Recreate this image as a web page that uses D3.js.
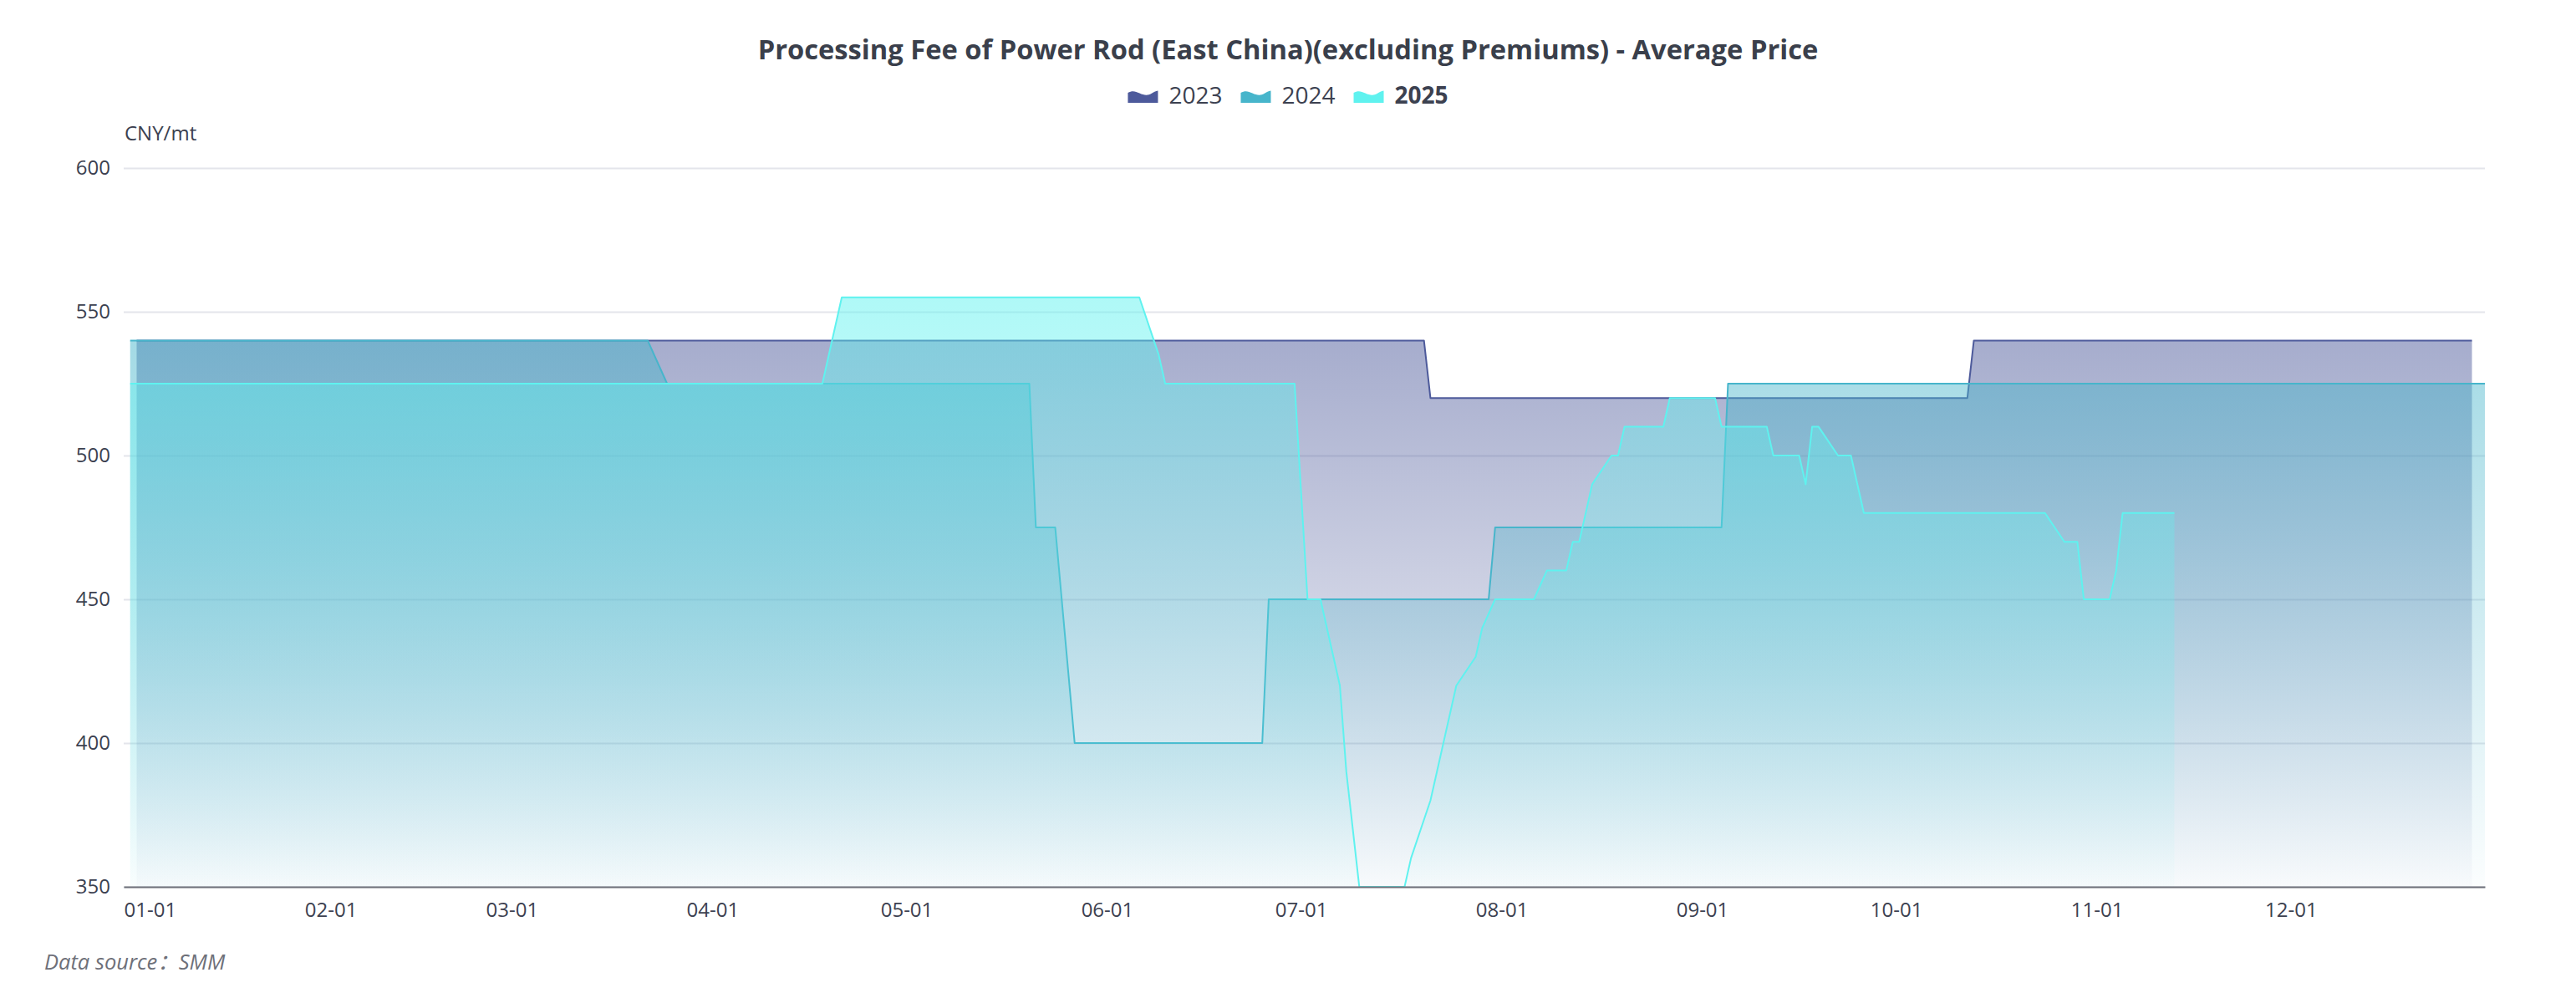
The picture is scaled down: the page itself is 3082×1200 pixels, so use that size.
<!DOCTYPE html>
<html>
<head>
<meta charset="utf-8">
<script src="https://cdn.jsdelivr.net/npm/d3@7"></script>
<style>
  html, body { margin: 0; padding: 0; background: #fff; }
  svg { display: block; font-family: "Open Sans", "Noto Sans", "Noto Sans CJK SC", sans-serif; }
</style>
</head>
<body>
<div id="chart"></div>
<script>
// change points of each year's price (MM-DD), straight lines between them
const dates2023 = ['01-02', '07-20', '07-21', '10-12', '10-13', '12-29'];
const values2023 = [540, 540, 520, 520, 540, 540];

const dates2024 = ['01-01', '03-22', '03-25', '05-20', '05-21', '05-24', '05-27', '06-25',
                   '06-26', '07-30', '07-31', '09-04', '09-05', '12-31'];
const values2024 = [540, 540, 525, 525, 475, 475, 400, 400, 450, 450, 475, 475, 525, 525];

const dates2025 = ['01-01', '04-18', '04-21', '06-06', '06-09', '06-10', '06-30', '07-02',
                   '07-04', '07-07', '07-08', '07-09', '07-10', '07-17', '07-18', '07-21',
                   '07-25', '07-28', '07-29', '07-31', '08-06', '08-08', '08-11', '08-12',
                   '08-13', '08-15', '08-18', '08-19', '08-20', '08-26', '08-27', '09-03',
                   '09-04', '09-11', '09-12', '09-16', '09-17', '09-18', '09-19', '09-22',
                   '09-24', '09-26', '10-24', '10-27', '10-29', '10-30', '11-03', '11-04',
                   '11-05', '11-13'];
const values2025 = [525, 525, 555, 555, 535, 525, 525, 450,
                    450, 420, 390, 370, 350, 350, 360, 380,
                    420, 430, 440, 450, 450, 460, 460, 470,
                    470, 490, 500, 500, 510, 510, 520, 520,
                    510, 510, 500, 500, 490, 510, 510, 500,
                    500, 480, 480, 470, 470, 450, 450, 460,
                    480, 480];

const seriesNames = ['2023', '2024', '2025'];
const seriesColors = ['#4d5a9b', '#47b5cb', '#5ff2ef'];
const yTicks = [350, 400, 450, 500, 550, 600];
const monthTicks = ['01-01', '02-01', '03-01', '04-01', '05-01', '06-01',
                    '07-01', '08-01', '09-01', '10-01', '11-01', '12-01'];

const W = 3082, H = 1200;
const grid = { left: 148, right: 2973, top: 201, bottom: 1061 };
const textColor = '#3c4150';

// every year is laid on the same calendar axis
const parseDay = s => d3.timeParse('%Y-%m-%d')('2023-' + s);

const series = [
  { dates: dates2023, values: values2023 },
  { dates: dates2024, values: values2024 },
  { dates: dates2025, values: values2025 }
].map((s, i) => ({
  name: seriesNames[i],
  color: seriesColors[i],
  points: s.dates.map((d, j) => ({ date: parseDay(d), value: s.values[j] }))
}));

const svg = d3.select('#chart').append('svg')
  .attr('width', W)
  .attr('height', H);

const x = d3.scaleTime()
  .domain([new Date(2022, 11, 31), new Date(2023, 11, 31)])
  .range([grid.left, grid.right]);

const y = d3.scaleLinear()
  .domain([350, 600])
  .range([grid.bottom, grid.top]);

// gradients, one per series
const defs = svg.append('defs');
series.forEach((s, i) => {
  const g = defs.append('linearGradient')
    .attr('id', 'grad' + i)
    .attr('x1', 0).attr('y1', 0).attr('x2', 0).attr('y2', 1);
  g.append('stop').attr('offset', '0%').attr('stop-color', s.color).attr('stop-opacity', 0.5);
  g.append('stop').attr('offset', '100%').attr('stop-color', s.color).attr('stop-opacity', 0.02);
});
defs.append('clipPath').attr('id', 'plotClip')
  .append('rect')
  .attr('x', grid.left).attr('y', grid.top - 5)
  .attr('width', grid.right - grid.left).attr('height', grid.bottom - grid.top + 5);

// grid lines
svg.append('g')
  .attr('class', 'grid')
  .attr('transform', `translate(${grid.left},0)`)
  .call(d3.axisLeft(y).tickValues(yTicks).tickSize(-(grid.right - grid.left)).tickFormat(''))
  .call(g => g.select('.domain').remove())
  .call(g => g.selectAll('line').attr('stroke', '#e4e5eb').attr('stroke-width', 2));

// areas + lines
const area = d3.area()
  .x(d => x(d.date))
  .y0(y(350))
  .y1(d => y(d.value));

const line = d3.line()
  .x(d => x(d.date))
  .y(d => y(d.value));

const plot = svg.append('g').attr('clip-path', 'url(#plotClip)');
series.forEach((s, i) => {
  plot.append('path')
    .datum(s.points)
    .attr('fill', `url(#grad${i})`)
    .attr('d', area);
  plot.append('path')
    .datum(s.points)
    .attr('fill', 'none')
    .attr('stroke', s.color)
    .attr('stroke-width', 2)
    .attr('stroke-linejoin', 'round')
    .attr('d', line);
});

// x axis
const xAxis = svg.append('g')
  .attr('transform', `translate(0,${grid.bottom})`)
  .call(d3.axisBottom(x)
    .tickValues(monthTicks.map(parseDay))
    .tickSize(0)
    .tickFormat(d3.timeFormat('%m-%d')))
  .attr('font-family', null)
  .attr('font-size', null);
xAxis.select('.domain')
  .attr('stroke', '#6e7079')
  .attr('stroke-width', 2);
xAxis.selectAll('text')
  .attr('y', 36)
  .attr('dy', null)
  .attr('fill', textColor)
  .style('font-size', '24px');
// first label kept inside the grid
xAxis.selectAll('.tick').filter((d, i) => i === 0).select('text')
  .attr('text-anchor', 'start')
  .attr('x', grid.left - x(parseDay(monthTicks[0])));

// y axis
const yAxis = svg.append('g')
  .attr('transform', `translate(${grid.left},0)`)
  .call(d3.axisLeft(y).tickValues(yTicks).tickSize(0).tickPadding(16))
  .attr('font-family', null)
  .attr('font-size', null);
yAxis.select('.domain').remove();
yAxis.selectAll('text')
  .attr('fill', textColor)
  .style('font-size', '24px');

svg.append('text')
  .attr('x', 149)
  .attr('y', 168)
  .attr('fill', textColor)
  .style('font-size', '24px')
  .text('CNY/mt');

// title
svg.append('text')
  .attr('x', W / 2)
  .attr('y', 71)
  .attr('text-anchor', 'middle')
  .attr('fill', '#3a3f4b')
  .style('font-size', '32.7px')
  .style('font-weight', 'bold')
  .text('Processing Fee of Power Rod (East China)(excluding Premiums) - Average Price');

// legend
const legend = svg.append('g');
let lx = 0;
series.forEach((s, i) => {
  const item = legend.append('g').attr('transform', `translate(${lx},0)`);
  item.append('path')
    .attr('d', 'M0,15 L0,3 C5,0 9,1 14,3.5 C19,6 24,6.5 28,4 C31,2 33,1 36,0.5 L36,15 Z')
    .attr('transform', 'translate(0,108)')
    .attr('fill', s.color);
  const t = item.append('text')
    .attr('x', 49)
    .attr('y', 124)
    .attr('fill', textColor)
    .style('font-size', '28px')
    .style('font-weight', i === 2 ? 'bold' : 'normal')
    .text(s.name);
  lx += 49 + t.node().getComputedTextLength() + 22;
});
const legendWidth = lx - 22;
legend.attr('transform', `translate(${W / 2 - legendWidth / 2},0)`);

// source note
svg.append('text')
  .attr('x', 53)
  .attr('y', 1160)
  .attr('fill', '#6e7079')
  .style('font-size', '25.5px')
  .style('font-style', 'italic')
  .text('Data source：SMM');
</script>
</body>
</html>
